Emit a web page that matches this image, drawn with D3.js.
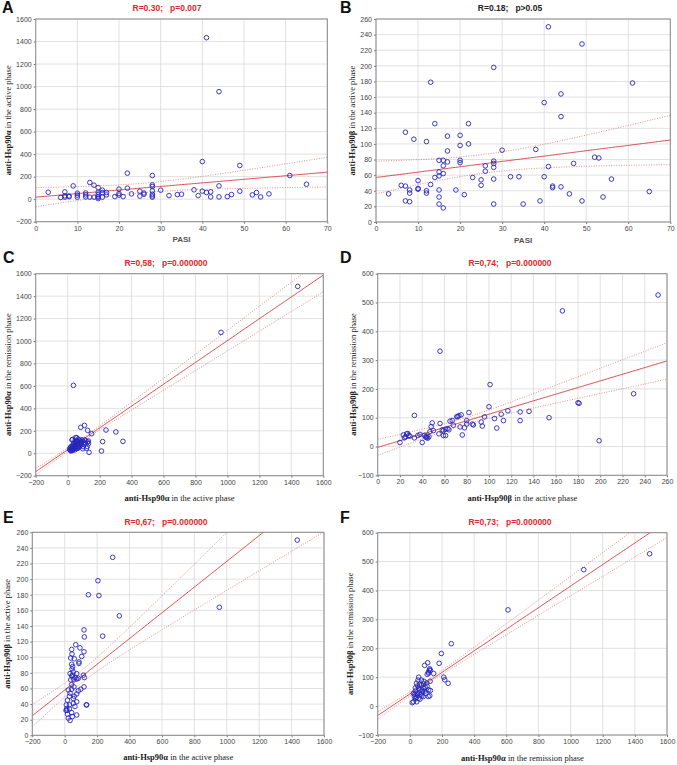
<!DOCTYPE html>
<html><head><meta charset="utf-8">
<script src="https://cdn.jsdelivr.net/npm/d3@7"></script>
<style>body{margin:0;background:#fff}svg{display:block}</style>
</head><body>
<svg id="chart" width="677" height="765"></svg>
<script>
// ---------- DATA ----------
const pointsA = [[3,62],[6,15],[7,18],[7,30],[7,65],[8,22],[8,28],[9,118],[10,18],[10,36],[10,53],[12,20],[12,38],[12,55],[13,148],[13,18],[14,124],[14,18],[15,18],[15,103],[15,62],[15,41],[15,23],[15,5],[16,80],[16,59],[16,18],[17,59],[17,38],[19,23],[20,89],[20,50],[20,36],[21,23],[22,231],[22,98],[23,47],[25,71],[25,27],[26,44],[26,55],[28,210],[28,127],[28,112],[28,74],[28,44],[28,29],[28,18],[30,80],[32,32],[34,41],[35,44],[38,83],[39,32],[40,334],[40,71],[41,1434],[41,59],[42,65],[42,20],[44,955],[44,118],[44,20],[46,23],[47,41],[49,299],[49,71],[52,38],[53,59],[54,20],[56,47],[61,210],[65,133]];
const pointsB = [[3,36],[6,47],[7,115],[7,46],[7,27],[8,41],[8,37],[8,26],[9,106],[10,53],[10,43],[10,42],[12,103],[12,40],[12,37],[13,179],[13,48],[14,126],[14,57],[15,79],[15,64],[15,59],[15,41],[15,32],[15,23],[16,79],[16,72],[16,62],[16,18],[17,110],[17,91],[17,77],[19,41],[20,111],[20,98],[20,79],[20,76],[21,35],[22,126],[22,100],[23,57],[25,54],[25,47],[26,72],[26,65],[28,198],[28,78],[28,75],[28,70],[28,55],[28,23],[30,92],[32,58],[34,58],[35,23],[38,93],[39,27],[40,153],[40,58],[41,250],[41,71],[42,46],[42,44],[44,164],[44,135],[44,45],[46,36],[47,75],[49,228],[49,27],[52,83],[53,82],[54,32],[56,55],[61,178],[65,39]];
const pointsC = [[1440,1487],[960,1077],[36,605],[105,248],[82,231],[125,204],[150,174],[240,207],[302,190],[219,104],[346,106],[212,20],[134,8],[123,61],[130,109],[130,85],[50,139],[27,118],[37,89],[55,107],[76,95],[93,107],[108,118],[25,44],[15,29],[35,38],[50,53],[66,59],[81,71],[97,59],[19,53],[31,68],[46,83],[60,107],[73,118],[87,77],[101,83],[118,44],[114,110],[31,124],[57,139],[61,103],[11,38],[26,29],[20,20],[24,35],[30,25],[40,45],[45,60],[55,40],[65,75],[70,50],[44,30],[36,55],[58,88],[85,95],[90,120],[48,100],[66,125],[28,50],[18,30],[42,70],[52,85],[62,45],[72,65],[80,108],[95,40],[110,92],[22,60],[33,42],[47,115],[124,100]];
const pointsD = [[252,526],[166,471],[56,331],[101,215],[100,138],[230,183],[180,152],[181,150],[199,20],[154,100],[136,122],[128,120],[128,90],[117,124],[113,90],[111,112],[105,97],[107,64],[96,103],[93,85],[94,71],[85,78],[82,118],[80,90],[80,78],[78,65],[76,40],[73,107],[71,103],[74,68],[68,74],[67,90],[64,58],[61,60],[59,38],[61,38],[59,55],[56,80],[55,44],[50,55],[49,82],[48,69],[47,52],[43,33],[45,29],[42,39],[44,36],[40,14],[38,42],[36,38],[33,108],[33,30],[28,38],[26,44],[25,34],[24,30],[27,45],[20,14],[23,40],[29,36],[44,31],[46,34],[58,58],[65,88],[72,104],[75,110],[86,75],[63,62]];
const pointsE = [[1435,250],[954,164],[296,228],[205,198],[146,180],[211,179],[337,153],[234,127],[119,135],[121,126],[133,39],[68,116],[94,112],[43,110],[119,107],[45,104],[105,101],[59,98],[43,91],[88,94],[88,92],[45,85],[33,79],[49,77],[64,74],[43,76],[74,79],[84,73],[115,77],[121,74],[55,72],[74,72],[119,62],[99,59],[84,57],[74,53],[43,59],[33,54],[43,65],[59,50],[53,41],[74,43],[17,45],[29,39],[13,32],[43,29],[63,37],[17,27],[47,24],[74,26],[136,39],[33,19],[22,22],[8,32],[10,39],[29,50],[53,47],[22,58],[37,71],[53,81],[37,99],[49,88],[13,34],[29,34],[57,62]];
const pointsF = [[1492,527],[1082,472],[611,333],[258,216],[196,182],[182,148],[111,150],[211,100],[217,91],[238,79],[92,141],[148,113],[117,114],[124,129],[128,123],[124,36],[115,33],[128,54],[122,125],[115,118],[108,110],[51,90],[72,90],[88,86],[41,79],[61,75],[86,77],[107,69],[117,56],[55,62],[76,56],[96,52],[34,52],[45,44],[22,44],[49,38],[74,35],[99,44],[28,33],[53,27],[22,15],[63,24],[84,33],[43,15],[15,12],[63,56],[88,61],[34,63],[72,73],[126,86],[30,40],[40,30],[58,45],[68,40],[80,50],[95,65],[105,80],[55,100],[48,70],[35,25]];

// regression: [intercept, slope, xMean, halfWidthAtMean, k]
const fitA = [18, 3.17, 26, 42, 2.84];
const fitB = [57, 0.686, 26, 12, 0.663];
const fitC = [31, 0.973, 60, 12, 0.097];
const fitD = [-3, 1.154, 75, 12, 0.337];
const fitE = [58, 0.1648, 100, 8, 0.0403];
const fitF = [42, 0.3732, 110, 6, 0.0372];

const statsText = ["R=0.30;   p=0.007","R=0.18;   p>0.05","R=0,58;   p=0.000000","R=0,74;   p=0.000000","R=0,67;   p=0.000000","R=0,73;   p=0.000000"];
const panelLetters = ["A","B","C","D","E","F"];
const yLabels = [["anti-Hsp90α"," in the active phase"],["anti-Hsp90β"," in the active phase"],["anti-Hsp90α"," in the remission phase"],["anti-Hsp90β"," in the remission phase"],["anti-Hsp90β"," in the active phase"],["anti-Hsp90β"," in the remission phase"]];
const xLabels = [["PASI",""],["PASI",""],["anti-Hsp90α"," in the active phase"],["anti-Hsp90β"," in the active phase"],["anti-Hsp90α"," in the active phase"],["anti-Hsp90α"," in the remission phase"]];
const ticksPasi = d3.range(0, 71, 10);
const ticksAlpha = d3.range(-200, 1601, 200);
const ticksBeta260 = d3.range(0, 261, 20);
const ticksBeta600 = d3.range(-100, 601, 100);
const ticksBetaX = d3.range(0, 261, 20);

// ---------- LAYOUT ----------
const panels = [
  {pts:pointsA, fit:fitA, xT:ticksPasi, yT:ticksAlpha, box:[35.7,327.3,19,221.7], title:[167,8], letter:[2,13], ylab:[8], xlab:239, red:true},
  {pts:pointsB, fit:fitB, xT:ticksPasi, yT:ticksBeta260, box:[376,670.3,19,222], title:[510,8], letter:[340,13], ylab:[352], xlab:240, red:false},
  {pts:pointsC, fit:fitC, xT:ticksAlpha, yT:ticksAlpha, box:[35.7,323.3,273.7,475.7], title:[166,263], letter:[3,263], ylab:[8], xlab:498, red:true},
  {pts:pointsD, fit:fitD, xT:ticksBetaX, yT:ticksBeta600, box:[377.7,667,273.7,475.3], title:[510,263], letter:[340,263], ylab:[353], xlab:498, red:true},
  {pts:pointsE, fit:fitE, xT:ticksAlpha, yT:ticksBeta260, box:[32.3,324,532.3,735.3], title:[166,522], letter:[3,523], ylab:[7], xlab:757, red:true},
  {pts:pointsF, fit:fitF, xT:ticksAlpha, yT:ticksBeta600, box:[377.7,667,532.7,735], title:[510,522], letter:[340,523], ylab:[350], xlab:758, red:true}
];

const svg = d3.select("#chart");
const blue = "#2626bb", red = "#d8383c";

panels.forEach((p, i) => {
  const [L, R, T, B] = p.box;
  const x = d3.scaleLinear().domain(d3.extent(p.xT)).range([L, R]);
  const y = d3.scaleLinear().domain(d3.extent(p.yT)).range([B, T]);
  const g = svg.append("g");

  // grid
  g.append("g").selectAll("line").data(p.xT).join("line")
    .attr("x1", d => x(d)).attr("x2", d => x(d)).attr("y1", T).attr("y2", B)
    .attr("stroke", "#d9d9d9").attr("stroke-width", 0.8);
  g.append("g").selectAll("line").data(p.yT).join("line")
    .attr("y1", d => y(d)).attr("y2", d => y(d)).attr("x1", L).attr("x2", R)
    .attr("stroke", "#d9d9d9").attr("stroke-width", 0.8);

  // axes
  const ax = g.append("g").attr("transform", `translate(0,${B})`)
    .call(d3.axisBottom(x).tickValues(p.xT).tickSize(2).tickPadding(2).tickSizeOuter(0).tickFormat(d3.format("d")));
  const ay = g.append("g").attr("transform", `translate(${L},0)`)
    .call(d3.axisLeft(y).tickValues(p.yT).tickSize(2).tickPadding(2).tickSizeOuter(0).tickFormat(d3.format("d")));
  [ax, ay].forEach(a => {
    a.select(".domain").remove();
    a.selectAll("line").attr("stroke", "#777");
    a.selectAll("text").attr("font-family", "Arial, 'Liberation Sans', sans-serif")
      .attr("font-size", 7).attr("fill", "#444");
  });

  // clip
  const cid = "clip" + i;
  svg.append("clipPath").attr("id", cid).append("rect")
    .attr("x", L).attr("y", T).attr("width", R - L).attr("height", B - T);
  const plot = g.append("g").attr("clip-path", `url(#${cid})`);

  const [a, b, xm, h0, k] = p.fit;
  const xs = d3.range(0, 201).map(j => x.domain()[0] + j * (x.domain()[1] - x.domain()[0]) / 200);
  const hw = xv => Math.sqrt(h0 * h0 + k * k * (xv - xm) * (xv - xm));
  const line = d3.line().x(d => x(d[0])).y(d => y(d[1]));
  plot.append("path").datum(xs.map(v => [v, a + b * v + hw(v)])).attr("d", line)
    .attr("fill", "none").attr("stroke", "#e07070").attr("stroke-width", 0.8).attr("stroke-dasharray", "1,1.5");
  plot.append("path").datum(xs.map(v => [v, a + b * v - hw(v)])).attr("d", line)
    .attr("fill", "none").attr("stroke", "#e07070").attr("stroke-width", 0.8).attr("stroke-dasharray", "1,1.5");
  plot.append("path").datum(xs.map(v => [v, a + b * v])).attr("d", line)
    .attr("fill", "none").attr("stroke", red).attr("stroke-width", 0.9);

  // points
  plot.append("g").selectAll("circle").data(p.pts).join("circle")
    .attr("cx", d => x(d[0])).attr("cy", d => y(d[1])).attr("r", 2.3)
    .attr("fill", "none").attr("stroke", blue).attr("stroke-width", 0.9);

  // frame
  g.append("rect").attr("x", L).attr("y", T).attr("width", R - L).attr("height", B - T)
    .attr("fill", "none").attr("stroke", "#8a8a8a").attr("stroke-width", 1);

  // title
  g.append("text").attr("x", p.title[0]).attr("y", p.title[1]).attr("dy", "0.35em")
    .attr("text-anchor", "middle").attr("font-family", "Arial, 'Liberation Sans', sans-serif")
    .attr("font-size", 8.5).attr("font-weight", "bold").attr("xml:space", "preserve")
    .style("white-space", "pre")
    .attr("fill", p.red ? "#e0282c" : "#222").text(statsText[i]);

  // letter
  g.append("text").attr("x", p.letter[0]).attr("y", p.letter[1])
    .attr("font-family", "Arial, 'Liberation Sans', sans-serif").attr("font-size", 16)
    .attr("font-weight", "bold").attr("fill", "#111").text(panelLetters[i]);

  // y label
  const cy = (T + B) / 2;
  const yl = g.append("text").attr("transform", `translate(${p.ylab[0]},${cy}) rotate(-90)`)
    .attr("dy", "0.35em").attr("text-anchor", "middle")
    .attr("font-family", "'Liberation Serif', 'DejaVu Serif', serif").attr("font-size", 8.5).attr("fill", "#222");
  yl.append("tspan").attr("font-weight", "bold").text(yLabels[i][0]);
  yl.append("tspan").text(yLabels[i][1]);

  // x label
  const cx = (L + R) / 2;
  const xl = g.append("text").attr("x", cx).attr("y", p.xlab).attr("dy", "0.35em").attr("text-anchor", "middle");
  if (xLabels[i][1] === "") {
    xl.attr("font-family", "Arial, 'Liberation Sans', sans-serif").attr("font-size", 8)
      .attr("font-weight", "bold").attr("fill", "#555").text(xLabels[i][0]);
  } else {
    xl.attr("font-family", "'Liberation Serif', 'DejaVu Serif', serif").attr("font-size", 8.5).attr("fill", "#222");
    xl.append("tspan").attr("font-weight", "bold").text(xLabels[i][0]);
    xl.append("tspan").text(xLabels[i][1]);
  }
});
</script>
</body></html>
